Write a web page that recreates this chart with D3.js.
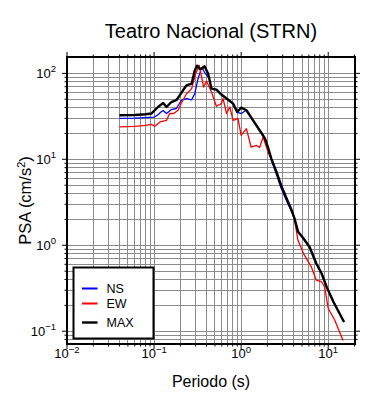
<!DOCTYPE html>
<html>
<head>
<meta charset="utf-8">
<script src="https://cdn.jsdelivr.net/npm/d3@7"></script>
<style>
    body { margin: 0; background: #fff; }
    svg { font-family: 'Liberation Sans', Arial, Helvetica, sans-serif; }
</style>
</head>
<body>
<div id="vis"></div>
<script>
'use strict';

//NS component
var nsPeriod = [0.04, 0.06, 0.08, 0.1, 0.111, 0.12, 0.127, 0.139, 0.158, 0.18, 0.206, 0.236, 0.27, 0.293, 0.32, 0.35, 0.363, 0.38, 0.43, 0.456, 0.52, 0.577, 0.68, 0.81, 0.9, 1.0, 1.15, 1.37, 1.63, 1.88, 2.03, 2.22, 2.55, 2.88, 3.27, 3.8, 4.1, 4.49, 5.2, 6.1, 7.3, 8.4, 9.6, 11.5, 15.2];
var nsPsa = [30.0, 30.2, 30.6, 31.0, 33.0, 35.5, 37.0, 34.1, 37.9, 39.0, 48.7, 50.9, 49.3, 58.0, 86.6, 115, 111, 103, 86.6, 66.5, 64.6, 58.0, 50.9, 44.4, 35.5, 34.1, 37.2, 28.4, 21.8, 17.4, 13.5, 9.8, 6.6, 4.6, 3.4, 2.45, 2.05, 1.45, 1.2, 0.956, 0.613, 0.469, 0.327, 0.219, 0.128];

//EW component
var ewPeriod = [0.04, 0.06, 0.08, 0.093, 0.102, 0.117, 0.139, 0.151, 0.168, 0.189, 0.206, 0.236, 0.27, 0.3, 0.33, 0.37, 0.4, 0.456, 0.52, 0.593, 0.62, 0.68, 0.74, 0.81, 0.92, 1.0, 1.15, 1.3, 1.5, 1.63, 1.79, 2.03, 2.22, 2.55, 2.88, 3.27, 3.8, 4.1, 4.49, 5.2, 6.4, 7.3, 8.4, 9.1, 10.0, 11.9, 14.8];
var ewPsa = [23.8, 24.2, 24.8, 25.5, 24.3, 27.2, 28.4, 34.1, 34.1, 37.2, 45.2, 58.0, 66.5, 99.0, 124, 69.4, 81.3, 60.6, 41.4, 44.4, 50.9, 34.1, 40.6, 28.4, 29.7, 19.0, 22.7, 13.9, 14.5, 13.7, 18.2, 12.2, 10.0, 7.1, 5.0, 3.65, 2.55, 2.0, 1.14, 0.8, 0.56, 0.392, 0.374, 0.327, 0.184, 0.134, 0.078];

//maximum of both
var maxPeriod = [0.04, 0.06, 0.08, 0.093, 0.111, 0.127, 0.139, 0.158, 0.18, 0.197, 0.215, 0.236, 0.27, 0.293, 0.312, 0.334, 0.35, 0.38, 0.418, 0.456, 0.52, 0.577, 0.68, 0.81, 0.9, 1.0, 1.15, 1.37, 1.63, 1.88, 2.03, 2.22, 2.55, 2.88, 3.27, 3.8, 4.1, 4.49, 5.2, 6.1, 7.3, 8.4, 9.6, 11.5, 15.2];
var maxPsa = [32.5, 32.8, 33.4, 34.1, 40.6, 45.2, 40.6, 46.4, 48.7, 55.5, 63.5, 72.6, 75.9, 108, 123, 113, 113, 121, 99.0, 66.5, 64.6, 58.0, 50.9, 44.4, 35.5, 39.9, 37.2, 28.4, 21.8, 17.4, 13.9, 10.2, 7.1, 4.98, 3.65, 2.55, 2.05, 1.45, 1.2, 0.956, 0.613, 0.469, 0.327, 0.219, 0.128];

var xTickExp = [-2, -1, 0, 1];
var yTickExp = [-1, 0, 1, 2];
var legendNames = ['NS', 'EW', 'MAX'];
var seriesColors = ['#0000ff', '#ff0000', '#000000'];

//layout
var width = 390, height = 400;
var margin = { top: 57, right: 35, bottom: 56, left: 67 };
var dim = { w: width - margin.left - margin.right, h: height - margin.top - margin.bottom };

var x = d3.scaleLog().domain([0.01, 20.3]).range([0, dim.w]);
var y = d3.scaleLog().domain([0.071, 155]).range([dim.h, 0]);

var svg = d3.select('#vis')
    .append('svg')
    .attr('width', width)
    .attr('height', height);

//title
svg.append('text')
    .attr('x', 211)
    .attr('y', 38)
    .attr('text-anchor', 'middle')
    .style('font-size', '20px')
    .text('Teatro Nacional (STRN)');

var g = svg.append('g')
    .attr('transform', 'translate(' + margin.left + ', ' + margin.top + ')');

//every 1..9 value inside a domain
function logValues(domain) {
    var vals = [];
    for (var e = -3; e <= 3; e++) {
        for (var m = 1; m <= 9; m++) {
            var v = m * Math.pow(10, e);
            if (v >= domain[0] * 0.9999 && v <= domain[1]) vals.push({ v: v, major: m === 1 });
        }
    }
    return vals;
}
var xVals = logValues(x.domain());
var yVals = logValues(y.domain());

//grid
g.selectAll('.grid-x')
    .data(xVals)
    .enter()
    .append('line')
    .attr('x1', function (d) { return x(d.v); })
    .attr('x2', function (d) { return x(d.v); })
    .attr('y1', 0)
    .attr('y2', dim.h)
    .style('stroke', '#8c8c8c')
    .style('stroke-width', 1)
    .style('shape-rendering', 'crispEdges');
g.selectAll('.grid-y')
    .data(yVals)
    .enter()
    .append('line')
    .attr('x1', 0)
    .attr('x2', dim.w)
    .attr('y1', function (d) { return y(d.v); })
    .attr('y2', function (d) { return y(d.v); })
    .style('stroke', '#8c8c8c')
    .style('stroke-width', 1)
    .style('shape-rendering', 'crispEdges');

//ticks on all four sides, outside the frame
function tickLen(d) { return d.major ? 5 : 2.5; }
[0, dim.h].forEach(function (yy, i) {
    g.selectAll('.tick-x' + i)
        .data(xVals)
        .enter()
        .append('line')
        .attr('x1', function (d) { return x(d.v); })
        .attr('x2', function (d) { return x(d.v); })
        .attr('y1', yy)
        .attr('y2', function (d) { return i ? yy + tickLen(d) : yy - tickLen(d); })
        .style('stroke', '#000')
        .style('stroke-width', 1);
});
[0, dim.w].forEach(function (xx, i) {
    g.selectAll('.tick-y' + i)
        .data(yVals)
        .enter()
        .append('line')
        .attr('y1', function (d) { return y(d.v); })
        .attr('y2', function (d) { return y(d.v); })
        .attr('x1', xx)
        .attr('x2', function (d) { return i ? xx + tickLen(d) : xx - tickLen(d); })
        .style('stroke', '#000')
        .style('stroke-width', 1);
});

//tick labels as 10 with exponent
function expLabel(sel, e) {
    sel.append('tspan').text('10');
    sel.append('tspan')
        .attr('dy', -5.5)
        .style('font-size', '9.5px')
        .text(e < 0 ? '\u2212' + Math.abs(e) : e);
}
xTickExp.forEach(function (e) {
    var t = g.append('text')
        .attr('x', x(Math.pow(10, e)))
        .attr('y', dim.h + 14)
        .attr('text-anchor', 'middle')
        .style('font-size', '13px');
    expLabel(t, e);
});
yTickExp.forEach(function (e) {
    var t = g.append('text')
        .attr('x', -11)
        .attr('y', y(Math.pow(10, e)) + 4.5)
        .attr('text-anchor', 'end')
        .style('font-size', '13px');
    expLabel(t, e);
});

//axis labels
svg.append('text')
    .attr('x', margin.left + dim.w / 2)
    .attr('y', 387)
    .attr('text-anchor', 'middle')
    .style('font-size', '16px')
    .text('Periodo (s)');
var yl = svg.append('text')
    .attr('transform', 'translate(31, ' + (margin.top + dim.h / 2) + ') rotate(-90)')
    .attr('text-anchor', 'middle')
    .style('font-size', '16.5px');
yl.append('tspan').text('PSA (cm/s');
yl.append('tspan').attr('dy', -6).style('font-size', '11px').text('2');
yl.append('tspan').attr('dy', 6).text(')');

//curves
var line = d3.line()
    .x(function (d) { return x(d[0]); })
    .y(function (d) { return y(d[1]); });
var series = [
    { p: nsPeriod, v: nsPsa, w: 1.3 },
    { p: ewPeriod, v: ewPsa, w: 1.3 },
    { p: maxPeriod, v: maxPsa, w: 2.4 }
];
g.append('clipPath').attr('id', 'clip')
    .append('rect').attr('width', dim.w).attr('height', dim.h);
series.forEach(function (s, i) {
    g.append('path')
        .datum(d3.zip(s.p, s.v))
        .attr('d', line)
        .attr('clip-path', 'url(#clip)')
        .style('fill', 'none')
        .style('stroke', seriesColors[i])
        .style('stroke-width', s.w)
        .style('stroke-linejoin', 'round');
});

//frame
g.append('rect')
    .attr('width', dim.w)
    .attr('height', dim.h)
    .style('fill', 'none')
    .style('stroke', '#000')
    .style('stroke-width', 2);

//legend
var lg = svg.append('g').attr('transform', 'translate(73.5, 267.5)');
lg.append('rect')
    .attr('width', 80)
    .attr('height', 71)
    .style('fill', '#fff')
    .style('stroke', '#000')
    .style('stroke-width', 2);
var legendY = [21, 36, 55];
legendNames.forEach(function (name, i) {
    lg.append('line')
        .attr('x1', 8.5)
        .attr('x2', 24)
        .attr('y1', legendY[i])
        .attr('y2', legendY[i])
        .style('stroke', seriesColors[i])
        .style('stroke-width', i === 2 ? 2.4 : 2);
    lg.append('text')
        .attr('x', 33)
        .attr('y', legendY[i] + 4.5)
        .style('font-size', '12.5px')
        .text(name);
});
</script>
</body>
</html>
